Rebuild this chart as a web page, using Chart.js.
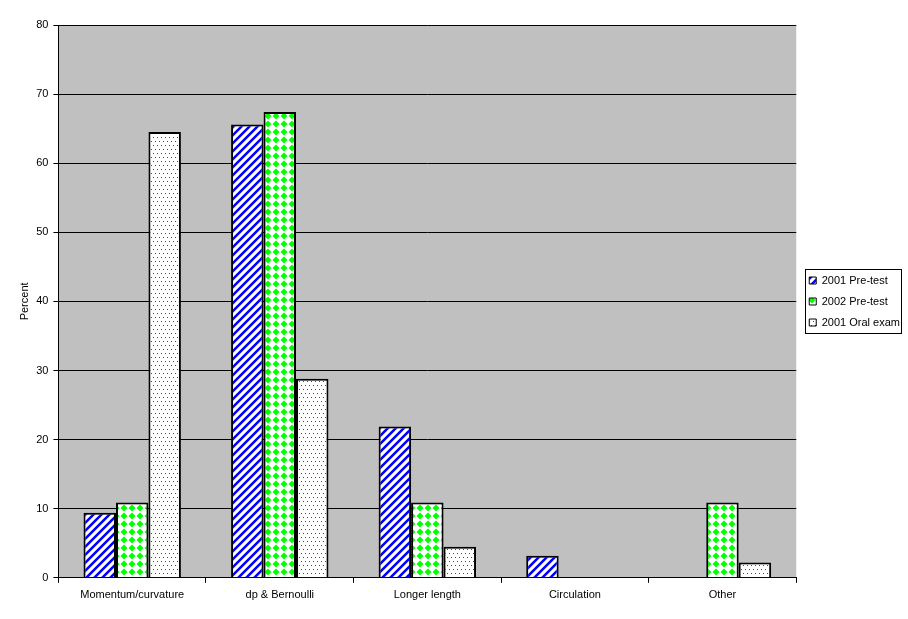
<!DOCTYPE html>
<html>
<head>
<meta charset="utf-8">
<script src="https://cdn.jsdelivr.net/npm/chart.js@4/dist/chart.umd.min.js"></script>
<style>
  html, body { margin: 0; padding: 0; background: #fff; }
  #wrap { width: 908px; height: 619px; }
</style>
</head>
<body>
<div id="wrap"><canvas id="chart" width="908" height="619"></canvas></div>
<script>
// chart data
const categories = ['Momentum/curvature', 'dp & Bernoulli', 'Longer length', 'Circulation', 'Other']
const seriesNames = ['2001 Pre-test', '2002 Pre-test', '2001 Oral exam']
const pretest2001 = [9.4, 65.6, 21.9, 3.2, 0]
const pretest2002 = [10.9, 67.4, 10.9, 0, 10.9]
const oral2001 = [64.5, 28.8, 4.5, 0, 2.2]
const yTicks = [0, 10, 20, 30, 40, 50, 60, 70, 80]

const FONT = { family: '"Liberation Sans", Arial, sans-serif', size: 11 }
const PLOT_BG = '#c0c0c0'

// small tiles used as fill patterns (like the old Excel hatch fills)
const makeTile = (draw) => {
  const c = document.createElement('canvas')
  c.width = 8
  c.height = 8
  const t = c.getContext('2d')
  t.fillStyle = '#fff'
  t.fillRect(0, 0, 8, 8)
  draw(t)
  return document.getElementById('chart').getContext('2d').createPattern(c, 'repeat')
}

const stripes = makeTile((t) => {
  t.strokeStyle = '#0000ff'
  t.lineWidth = 2.5
  t.beginPath()
  t.moveTo(-4, 4); t.lineTo(4, -4)
  t.moveTo(0, 8); t.lineTo(8, 0)
  t.moveTo(4, 12); t.lineTo(12, 4)
  t.stroke()
})

const diamonds = makeTile((t) => {
  t.fillStyle = '#00ff00'
  t.beginPath()
  t.moveTo(4, 0.5); t.lineTo(7.5, 4); t.lineTo(4, 7.5); t.lineTo(0.5, 4)
  t.closePath()
  t.fill()
})

const dots = makeTile((t) => {
  t.fillStyle = '#ff0000'
  t.fillRect(1, 1, 1, 1)
  t.fillRect(5, 1, 1, 1)
  t.fillRect(3, 5, 1, 1)
  t.fillRect(7, 5, 1, 1)
})

const plotBackground = {
  id: 'plot_bg',
  beforeDraw: (chart) => {
    const { ctx, chartArea } = chart
    ctx.save()
    ctx.fillStyle = PLOT_BG
    ctx.fillRect(chartArea.left, chartArea.top, chartArea.right - chartArea.left, chartArea.bottom - chartArea.top)
    ctx.restore()
  }
}

// legend: nudge it so it sits centred on the plot, then box it
const LEGEND_DX = 3
const LEGEND_DY = -15
const legendBorder = {
  id: 'legend_border',
  afterLayout: (chart) => {
    const lg = chart.legend
    lg.left += LEGEND_DX; lg.right += LEGEND_DX
    lg.top += LEGEND_DY; lg.bottom += LEGEND_DY
    // hit boxes are already placed, just move them along
    lg.legendHitBoxes.forEach(b => { b.left += LEGEND_DX; b.top += LEGEND_DY })
  },
  afterDraw: (chart) => {
    const lg = chart.legend
    const boxes = lg.legendHitBoxes
    if (!boxes || !boxes.length) return
    const ctx = chart.ctx
    const left = lg.left + lg.options.labels.padding - 4
    const top = boxes[0].top - 6
    const bottom = boxes[boxes.length - 1].top + boxes[boxes.length - 1].height + 5
    const right = 901
    ctx.save()
    ctx.strokeStyle = '#000'
    ctx.lineWidth = 1
    ctx.strokeRect(Math.round(left) + 0.5, Math.round(top) + 0.5, Math.round(right - left), Math.round(bottom - top))
    ctx.restore()
  }
}

const fills = [stripes, diamonds, dots]
const values = [pretest2001, pretest2002, oral2001]

new Chart(document.getElementById('chart'), {
  type: 'bar',
  data: {
    labels: categories,
    datasets: seriesNames.map((name, i) => ({
      label: name,
      data: values[i],
      backgroundColor: fills[i],
      borderColor: '#000',
      borderWidth: 2,
      borderSkipped: 'bottom'
    }))
  },
  options: {
    responsive: false,
    animation: false,
    devicePixelRatio: 1,
    layout: { padding: { top: 25, right: 1, bottom: 11, left: 6 } },
    datasets: { bar: { barPercentage: 1, categoryPercentage: 0.66 } },
    plugins: {
      tooltip: { enabled: false },
      legend: {
        position: 'right',
        labels: {
          color: '#000',
          font: FONT,
          boxWidth: 7,
          boxHeight: 7,
          padding: 10,
          generateLabels: (chart) => {
            const items = Chart.defaults.plugins.legend.labels.generateLabels(chart)
            items.forEach(it => { it.lineWidth = 1 })
            return items
          }
        }
      }
    },
    scales: {
      x: {
        offset: true,
        ticks: { color: '#000', font: FONT, padding: 6 },
        grid: { offset: true, drawOnChartArea: false, drawTicks: true, tickLength: 5, color: '#000' },
        border: { color: '#000', width: 1 }
      },
      y: {
        min: 0,
        max: 80,
        afterBuildTicks: (axis) => { axis.ticks = yTicks.map(v => ({ value: v })) },
        ticks: { color: '#000', font: FONT, padding: 5 },
        grid: { color: '#000', tickLength: 5, lineWidth: 1 },
        border: { color: '#000', width: 1 },
        title: { display: true, text: 'Percent', color: '#000', font: FONT, padding: { top: 12, bottom: 0 } }
      }
    }
  },
  plugins: [plotBackground, legendBorder]
})
</script>
</body>
</html>
